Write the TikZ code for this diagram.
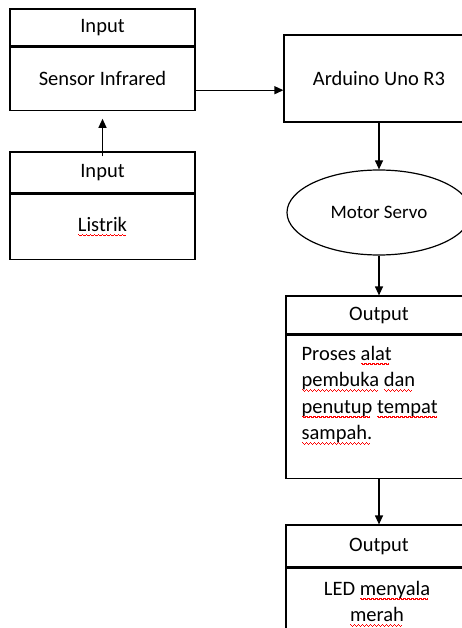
\documentclass[tikz,border=0pt]{standalone}
\usepackage{fontspec}
\setmainfont{Carlito}
\usepackage{tikz}
\usetikzlibrary{shapes.geometric,arrows.meta,positioning}
\tikzstyle{arrow} = [line width=1.2pt,-{Triangle[length=9pt,width=8pt]}]
% red wavy underline built from small rules
\newcommand{\gel}{\hbox{\vrule width 1pt height -2.6pt depth 3.8pt\vrule width 1pt height -3.3pt depth 4.5pt\vrule width 1pt height -4.0pt depth 5.2pt\vrule width 1pt height -3.3pt depth 4.5pt}}
\newsavebox{\katabox}
\newcommand{\salah}[1]{\sbox{\katabox}{#1}\rlap{\usebox{\katabox}}\textcolor{red}{\hbox to \wd\katabox{\leaders\gel\hfil}}}

\begin{document}
\begin{tikzpicture}[x=1pt, y=-1pt,
    header/.style={rectangle, draw=black, line width=1.2pt, minimum width=185pt, inner sep=0pt, font=\fontsize{20.5}{26}\selectfont},
    body/.style={header},
    box/.style={header, minimum width=190pt},
    servo/.style={ellipse, draw=black, line width=1.2pt, minimum width=184pt, minimum height=85pt, inner sep=0pt, font=\fontsize{19}{23}\selectfont},
    isi/.style={inner sep=0pt, font=\fontsize{20.5}{26.5}\selectfont}
]
\useasboundingbox (0,0) rectangle (462,628);
\clip (0,0) rectangle (462,628);

% Input blocks
\node[header, minimum height=37pt] (sensorhead) at (102.5,27.5) {Input};
\node[body, minimum height=63pt, below=0pt of sensorhead] (sensor) {Sensor Infrared};

\node[header, minimum height=41pt] (listrikhead) at (102.5,172.5) {Input};
\node[body, minimum height=65pt, below=0pt of listrikhead] (listrik) {\salah{Listrik}};
\draw[line width=2.8pt] (listrikhead.south west) -- (listrikhead.south east);

% Controller and actuator
\node[box, minimum height=87pt] (arduino) at (379,78.5) {Arduino Uno R3};
\node[servo] (servo) at (379,212.5) {Motor Servo};

% Output blocks
\node[header, minimum width=186pt, minimum height=38pt] (proseshead) at (379,315) {Output};
\node[body, minimum width=186pt, minimum height=143pt, below=0pt of proseshead] (proses) {};
\node[isi, anchor=north west, align=left] (prosesteks) at ([xshift=16pt,yshift=-11pt]proses.north west)
    {Proses \salah{alat}\\ \salah{pembuka} \salah{dan}\\ \salah{penutup} \salah{tempat}\\ \salah{sampah.}};

\node[header, minimum width=186pt, minimum height=42pt] (ledhead) at (379,546) {Output};
\node[body, minimum width=186pt, minimum height=90pt, below=0pt of ledhead] (led) {};
\node[isi, anchor=north, align=center] (ledteks) at ([xshift=-2pt,yshift=-13pt]led.north)
    {LED \salah{menyala}\\ \salah{merah}};

% Connectors
\draw[arrow] ([yshift=-5pt]listrikhead.north) -- ([yshift=-8pt]sensor.south);
\draw[arrow] ([yshift=-11.5pt]sensor.east) -- ([yshift=-11.5pt]sensor.east -| arduino.west);
\draw[arrow] (arduino) -- (servo);
\draw[arrow] (servo) -- (proseshead);
\draw[arrow] (proses) -- (ledhead);

\end{tikzpicture}
\end{document}
